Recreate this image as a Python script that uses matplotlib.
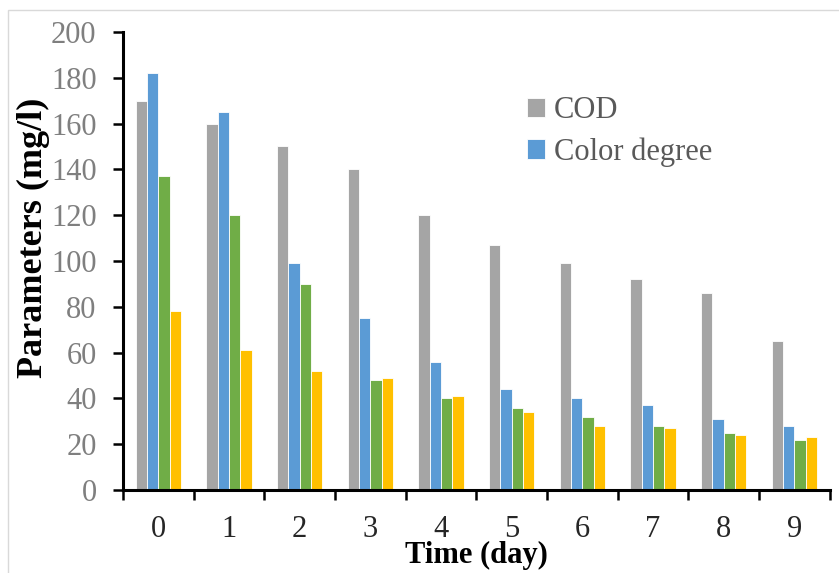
import numpy as np
import matplotlib.pyplot as plt
from matplotlib.patches import Rectangle

plt.rcParams['font.family'] = ['Liberation Serif', 'DejaVu Serif']

days = ['0', '1', '2', '3', '4', '5', '6', '7', '8', '9']
cod = [170, 160, 150, 140, 120, 107, 99, 92, 86, 65]
color_degree = [182, 165, 99, 75, 56, 44, 40, 37, 31, 28]
series_3 = [137, 120, 90, 48, 40, 36, 32, 28, 25, 22]
series_4 = [78, 61, 52, 49, 41, 34, 28, 27, 24, 23]

fig = plt.figure(figsize=(8.39, 5.73), dpi=100)
ax = fig.add_axes([0.1466, 0.1449, 0.8424, 0.7993])

x = np.arange(len(days))
w = 0.16
series = [(cod, '#A5A5A5', 'COD'), (color_degree, '#5B9BD5', 'Color degree'),
          (series_3, '#70AD47', None), (series_4, '#FFC000', None)]
for i, (vals, c, lab) in enumerate(series):
    ax.bar(x + (i - 1.5) * w, vals, w, color=c, edgecolor='white',
           linewidth=0.6, label=lab)

ax.set_xlim(-0.5, 9.5)
ax.set_ylim(0, 200)
ax.set_yticks(range(0, 201, 20))
ax.set_xticks(x)
ax.set_xticklabels(days)
ax.set_xticks(np.arange(-0.5, 10, 1), minor=True)
ax.tick_params(axis='x', which='major', length=0, pad=18, labelsize=22, labelcolor='#262626')
ax.tick_params(axis='x', which='minor', length=7, width=1.8, direction='out')
ax.tick_params(axis='y', length=7, width=1.8, direction='out', labelsize=22,
               labelcolor='#7F7F7F', pad=12)

for s in ['top', 'right']:
    ax.spines[s].set_visible(False)
for s in ['left', 'bottom']:
    ax.spines[s].set_linewidth(2.2)
    ax.spines[s].set_color('black')

ax.set_xlabel('Time (day)', fontsize=22, fontweight='bold', labelpad=-2)
ax.set_ylabel('Parameters (mg/l)', fontsize=26, fontweight='bold', va='center')
ax.yaxis.set_label_coords(-0.127, 0.55)

ax.legend(loc='upper left', bbox_to_anchor=(0.571, 0.86), frameon=False,
          borderpad=0, borderaxespad=0,
          fontsize=22, labelcolor='#595959', handlelength=0.6, handleheight=0.6,
          handletextpad=0.3, labelspacing=0.4)

fig.patches.append(Rectangle((0.010, -0.01), 1.1, 0.993, transform=fig.transFigure,
                             fill=False, edgecolor='#D9D9D9', linewidth=1))

fig.savefig('out.png', dpi=100)
